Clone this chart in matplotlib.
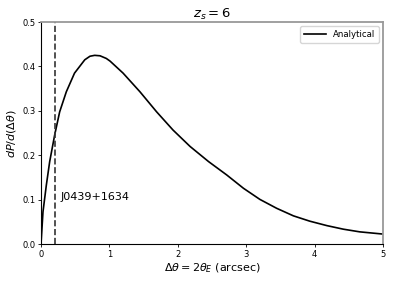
import matplotlib
matplotlib.use('Agg')
import matplotlib.pyplot as plt

# values
dtheta = [0, 0.029, 0.078, 0.127, 0.2, 0.273, 0.37, 0.49, 0.64, 0.716, 0.785, 0.863,
          0.955, 1.01, 1.20, 1.447, 1.69, 1.93, 2.18, 2.45, 2.715, 2.96, 3.20, 3.445,
          3.69, 3.93, 4.18, 4.42, 4.66, 5.0]
dpdtheta = [0, 0.073, 0.133, 0.186, 0.246, 0.298, 0.343, 0.385, 0.415, 0.423, 0.425, 0.424,
            0.418, 0.412, 0.385, 0.343, 0.298, 0.257, 0.22, 0.186, 0.156, 0.126, 0.101, 0.081,
            0.064, 0.052, 0.042, 0.034, 0.028, 0.023]
obs_sep = 0.2
obs_name = 'J0439+1634'

fig = plt.figure(figsize=(3.95, 2.82), dpi=100)
ax = fig.add_axes([41/395, 1 - 244.3/282, 342/395, 222.3/282])

ax.plot(dtheta, dpdtheta, color='k', lw=1.2, label='Analytical')
ax.axvline(obs_sep, color='0.2', ls='--', lw=1.2)
ax.text(obs_sep + 0.08, 0.1, obs_name, fontsize=8)

ax.set_xlim(0, 5)
ax.set_ylim(0, 0.5)
ax.set_xticks(range(6))
ax.set_yticks([0, 0.1, 0.2, 0.3, 0.4, 0.5])
ax.tick_params(labelsize=6, length=2.5, width=0.6, pad=1.5)
for s in ['top', 'right']:
    ax.spines[s].set_color('#999999')
    ax.spines[s].set_linewidth(1.3)
for s in ['left', 'bottom']:
    ax.spines[s].set_linewidth(0.8)

ax.set_xlabel(r'$\Delta\theta = 2\theta_E$ (arcsec)', fontsize=8, labelpad=2)
ax.set_ylabel(r'$dP/d(\Delta\theta)$', fontsize=8, labelpad=3)
ax.set_title(r'$z_s = 6$', fontsize=9.5, pad=3)
ax.legend(loc='upper right', fontsize=6.2, handlelength=2.5, borderpad=0.45)

fig.savefig('out.png', dpi=100)
